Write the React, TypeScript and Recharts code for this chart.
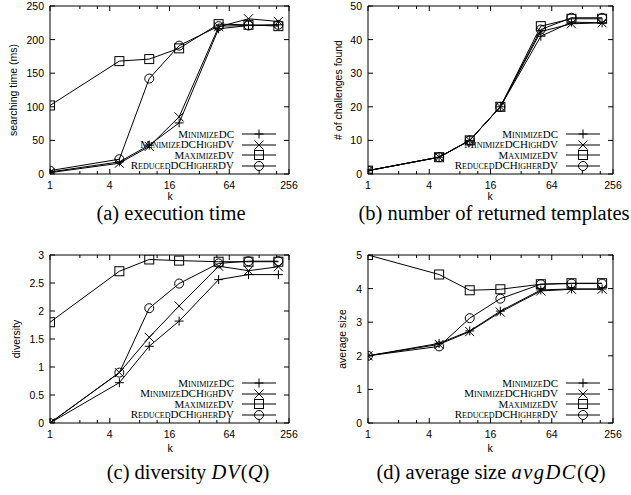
import React from 'react'
import { LineChart, Line, XAxis, YAxis, ReferenceArea, Legend } from 'recharts'

// k values (log2 x axis) and tick positions
const kValues = [1, 5, 10, 20, 50, 100, 200]
const xTicks = [1, 2, 3, 4, 8, 12, 16, 32, 48, 64, 128, 192, 256]
const xMajor = [1, 4, 16, 64, 256]

// (a) execution time
const timeMinDC = [3, 18, 43, 76, 216, 221, 222]
const timeMinDCHigh = [2, 16, 41, 85, 219, 231, 227]
const timeMaxDV = [102, 168, 171, 187, 223, 222, 220]
const timeReduced = [5, 22, 142, 191, 220, 221, 222]

// (b) number of returned templates
const foundMinDC = [1, 5, 10, 20, 41, 45.2, 45]
const foundMinDCHigh = [1, 5, 10, 20, 42.4, 44.7, 45]
const foundMaxDV = [1, 5, 10, 20, 44, 46.2, 46.2]
const foundReduced = [1, 5, 10, 20, 43, 46.5, 46.5]

// (c) diversity
const divMinDC = [0, 0.72, 1.37, 1.82, 2.56, 2.65, 2.65]
const divMinDCHigh = [0, 0.9, 1.53, 2.09, 2.8, 2.72, 2.79]
const divMaxDV = [1.8, 2.71, 2.92, 2.9, 2.88, 2.88, 2.88]
const divReduced = [0, 0.9, 2.05, 2.49, 2.85, 2.89, 2.89]

// (d) average size
const sizeMinDC = [2, 2.37, 2.74, 3.33, 3.96, 3.99, 3.99]
const sizeMinDCHigh = [2, 2.34, 2.72, 3.3, 3.93, 3.98, 3.98]
const sizeMaxDV = [5, 4.42, 3.95, 3.98, 4.13, 4.16, 4.16]
const sizeReduced = [2, 2.28, 3.12, 3.7, 4.13, 4.15, 4.15]

const seriesNames = ['MinimizeDC', 'MinimizeDCHighDV', 'MaximizeDV', 'ReducedDCHigherDV']
const seriesKeys = ['minDC', 'minDCHigh', 'maxDV', 'reduced']
const markerKinds = ['plus', 'cross', 'square', 'circle']

const sans = '"Liberation Sans", Arial, sans-serif'
const serif = '"Liberation Serif", "Times New Roman", serif'

const buildRows = (a: number[], b: number[], c: number[], d: number[]) =>
  kValues.map((k, i) => ({ k, minDC: a[i], minDCHigh: b[i], maxDV: c[i], reduced: d[i] }))

const Marker = ({ kind, cx, cy }: { kind: string; cx: number; cy: number }) => {
  const s = 4.5
  if (kind === 'plus')
    return <path d={`M${cx - s},${cy}H${cx + s}M${cx},${cy - s}V${cy + s}`} stroke="#000" fill="none" />
  if (kind === 'cross')
    return <path d={`M${cx - s},${cy - s}L${cx + s},${cy + s}M${cx - s},${cy + s}L${cx + s},${cy - s}`} stroke="#000" fill="none" />
  if (kind === 'square')
    return <rect x={cx - s} y={cy - s} width={2 * s} height={2 * s} stroke="#000" fill="none" />
  return <circle cx={cx} cy={cy} r={s} stroke="#000" fill="none" />
}

const PLOT_H = 168

const XTick = (props: any) => {
  const { x, y, payload, plotH } = props
  const major = xMajor.includes(payload.value)
  const len = major ? 5 : 3
  return (
    <g>
      <line x1={x} y1={y} x2={x} y2={y - len} stroke="#000" />
      <line x1={x} y1={y - plotH} x2={x} y2={y - plotH + len} stroke="#000" />
      {major && (
        <text x={x} y={y + 15} textAnchor="middle" fontFamily={sans} fontSize={10.5} fill="#000">
          {payload.value}
        </text>
      )}
    </g>
  )
}

const YTick = (props: any) => {
  const { x, y, payload, plotW } = props
  return (
    <g>
      <line x1={x} y1={y} x2={x + 5} y2={y} stroke="#000" />
      <line x1={x + plotW} y1={y} x2={x + plotW - 5} y2={y} stroke="#000" />
      <text x={x - 6} y={y + 4} textAnchor="end" fontFamily={sans} fontSize={10.5} fill="#000">
        {payload.value}
      </text>
    </g>
  )
}

const renderLegend = () => (
  <div style={{ display: 'flex', flexDirection: 'column' }}>
    {seriesNames.map((name, i) => (
      <div
        key={name}
        style={{ display: 'flex', justifyContent: 'flex-end', alignItems: 'center', height: 10.5 }}
      >
        <span
          style={{
            fontFamily: serif,
            fontSize: 11,
            fontVariant: 'small-caps',
            lineHeight: '10.5px',
            marginRight: 8,
            color: '#000',
          }}
        >
          {name}
        </span>
        <svg width={34} height={10} style={{ overflow: 'visible' }}>
          <line x1={0} y1={5} x2={34} y2={5} stroke="#000" />
          <Marker kind={markerKinds[i]} cx={17} cy={5} />
        </svg>
      </div>
    ))}
  </div>
)

interface PanelProps {
  data: any[]
  yMax: number
  yTicks: number[]
  left: number
  top: number
  width: number
  plotLeft: number
  plotRight: number
  plotTop: number
}

function Panel({ data, yMax, yTicks, left, top, width, plotLeft, plotRight, plotTop }: PanelProps) {
  const height = 230
  const plotW = plotRight - plotLeft
  const plotBottom = plotTop + PLOT_H
  const legendW = 220
  return (
    <div style={{ position: 'absolute', left, top }}>
      <LineChart
        width={width}
        height={height}
        data={data}
        margin={{ top: plotTop, left: plotLeft - 1, right: width - plotRight, bottom: height - plotBottom - 1 }}
      >
        <XAxis
          dataKey="k"
          type="number"
          scale="log"
          domain={[1, 256]}
          ticks={xTicks}
          interval={0}
          height={1}
          axisLine={false}
          tickLine={false}
          tickSize={0}
          tickMargin={0}
          tick={(p: any) => <XTick {...p} plotH={PLOT_H} />}
          allowDataOverflow
        />
        <YAxis
          type="number"
          domain={[0, yMax]}
          ticks={yTicks}
          interval={0}
          width={1}
          axisLine={false}
          tickLine={false}
          tickSize={0}
          tickMargin={0}
          tick={(p: any) => <YTick {...p} plotW={plotW} />}
          allowDataOverflow
        />
        <ReferenceArea
          x1={1}
          x2={256}
          y1={0}
          y2={yMax}
          fill="none"
          fillOpacity={0}
          stroke="#000"
          strokeWidth={1}
          ifOverflow="visible"
        />
        {seriesKeys.map((key, i) => (
          <Line
            key={key}
            dataKey={key}
            name={seriesNames[i]}
            stroke="#000"
            strokeWidth={1}
            isAnimationActive={false}
            activeDot={false}
            dot={(p: any) => <Marker key={`${key}-${p.index}`} kind={markerKinds[i]} cx={p.cx} cy={p.cy} />}
          />
        ))}
        <Legend
          layout="vertical"
          align="center"
          verticalAlign="middle"
          content={renderLegend}
          wrapperStyle={{
            left: plotRight - 13 - legendW,
            top: plotBottom - 40 - 5.25,
            width: legendW,
            right: 'auto',
            bottom: 'auto',
          }}
        />
      </LineChart>
    </div>
  )
}

const timeRows = buildRows(timeMinDC, timeMinDCHigh, timeMaxDV, timeReduced)
const foundRows = buildRows(foundMinDC, foundMinDCHigh, foundMaxDV, foundReduced)
const divRows = buildRows(divMinDC, divMinDCHigh, divMaxDV, divReduced)
const sizeRows = buildRows(sizeMinDC, sizeMinDCHigh, sizeMaxDV, sizeReduced)

const axisTitle = (x: number, y: number, text: string) => (
  <text
    x={x}
    y={y}
    transform={`rotate(-90 ${x} ${y})`}
    textAnchor="middle"
    dominantBaseline="central"
    fontFamily={sans}
    fontSize={10.5}
    fill="#000"
  >
    {text}
  </text>
)

export default function App() {
  return (
    <div
      style={{
        position: 'absolute',
        left: 0,
        top: 0,
        width: 631,
        height: 495,
        background: '#fff',
        overflow: 'hidden',
      }}
    >
      <Panel data={timeRows} yMax={250} yTicks={[0, 50, 100, 150, 200, 250]} left={0} top={0} width={316} plotLeft={50} plotRight={289} plotTop={6} />
      <Panel data={foundRows} yMax={50} yTicks={[0, 10, 20, 30, 40, 50]} left={318} top={0} width={313} plotLeft={50} plotRight={295} plotTop={6} />
      <Panel data={divRows} yMax={3} yTicks={[0, 0.5, 1, 1.5, 2, 2.5, 3]} left={0} top={249} width={316} plotLeft={50} plotRight={289} plotTop={6} />
      <Panel data={sizeRows} yMax={5} yTicks={[0, 1, 2, 3, 4, 5]} left={318} top={249} width={313} plotLeft={50} plotRight={295} plotTop={6} />
      <svg width={631} height={495} style={{ position: 'absolute', left: 0, top: 0, pointerEvents: 'none' }}>
        {axisTitle(13, 90, 'searching time (ms)')}
        {axisTitle(338, 90, '# of challenges found')}
        {axisTitle(16, 339, 'diversity')}
        {axisTitle(342, 339, 'average size')}
        <g fontFamily={sans} fontSize={10.5} textAnchor="middle" fill="#000">
          <text x={170} y={200}>k</text>
          <text x={490} y={200}>k</text>
          <text x={170} y={452}>k</text>
          <text x={490} y={452}>k</text>
        </g>
        <g fontFamily={serif} fontSize={20.5} fill="#000" textAnchor="middle">
          <text x={171} y={220}>(a) execution time</text>
          <text x={494} y={220}>(b) number of returned templates</text>
          <text x={188} y={479}>
            (c) diversity <tspan fontStyle="italic" letterSpacing={1}>DV</tspan>(<tspan fontStyle="italic">Q</tspan>)
          </text>
          <text x={491} y={479}>
            (d) average size <tspan fontStyle="italic" letterSpacing={1.5}>avgDC</tspan>(<tspan fontStyle="italic">Q</tspan>)
          </text>
        </g>
      </svg>
    </div>
  )
}
